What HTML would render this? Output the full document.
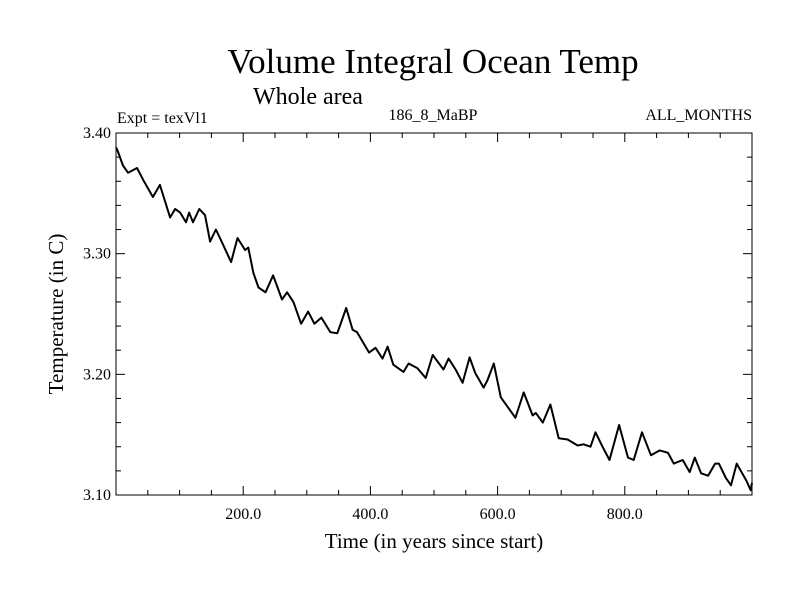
<!DOCTYPE html>
<html><head><meta charset="utf-8"><style>
body{margin:0;background:#fff;}
svg text{font-family:"Liberation Serif",serif;fill:#000;}
</style></head><body>
<svg id="chart" width="800" height="600" xmlns="http://www.w3.org/2000/svg">
<text x="433" y="73" font-size="35" text-anchor="middle">Volume Integral Ocean Temp</text>
<text x="308" y="104" font-size="24" text-anchor="middle">Whole area</text>
<text x="117" y="123" font-size="16">Expt = texVl1</text>
<text x="433" y="120" font-size="16" text-anchor="middle">186_8_MaBP</text>
<text x="752" y="120" font-size="16" text-anchor="end">ALL_MONTHS</text>
<g id="axes"></g>
<text x="434" y="548" font-size="21" text-anchor="middle">Time (in years since start)</text>
<text transform="translate(63,314) rotate(-90)" font-size="21" text-anchor="middle">Temperature (in C)</text>
</svg>
<script>
const years=[0,2,11,19,33,43,58,69,85,93,101,110,115,121,131,140,148,157,167,181,191,203,208,216,224,235,247,261,269,279,291,302,312,323,337,348,362,372,379,389,398,408,419,427,436,452,460,474,487,498,515,523,534,545,556,565,578,584,594,605,628,641,655,660,671,683,696,710,726,735,746,754,765,776,791,805,814,827,841,855,868,877,891,902,910,920,931,942,948,959,967,976,991,998,1000];
const temps=[3.388,3.386,3.373,3.367,3.371,3.361,3.347,3.357,3.330,3.337,3.334,3.326,3.334,3.326,3.337,3.332,3.310,3.320,3.309,3.293,3.313,3.303,3.305,3.284,3.272,3.268,3.282,3.262,3.268,3.260,3.242,3.252,3.242,3.247,3.235,3.234,3.255,3.237,3.235,3.226,3.218,3.222,3.213,3.223,3.208,3.202,3.209,3.205,3.197,3.216,3.204,3.213,3.204,3.193,3.214,3.201,3.189,3.195,3.209,3.181,3.164,3.185,3.166,3.168,3.160,3.175,3.147,3.146,3.141,3.142,3.140,3.152,3.140,3.129,3.158,3.131,3.129,3.152,3.133,3.137,3.135,3.126,3.129,3.119,3.131,3.118,3.116,3.126,3.126,3.114,3.108,3.126,3.112,3.104,3.110];
const xTickLabels=["200.0","400.0","600.0","800.0"];
const yTickLabels=["3.10","3.20","3.30","3.40"];
const L=116,R=752,T=133,B=495,X0=0,X1=1000,Y0=3.10,Y1=3.40;
const sx=v=>L+(v-X0)/(X1-X0)*(R-L);
const sy=v=>B-(v-Y0)/(Y1-Y0)*(B-T);
const NS="http://www.w3.org/2000/svg";
const g=document.getElementById('axes');
function mk(t,a){const e=document.createElementNS(NS,t);for(const k in a)e.setAttribute(k,a[k]);g.appendChild(e);return e;}
const frame=mk('rect',{x:L,y:T,width:R-L,height:B-T,fill:'none',stroke:'#000','stroke-width':1});


for(let v=50;v<1000;v+=50){
  const major=v%200===0, len=major?9:5, x=sx(v);
  const t1=mk('line',{x1:x,y1:B,x2:x,y2:B-len,stroke:'#000'});
  
  
  const t2=mk('line',{x1:x,y1:T,x2:x,y2:T+len,stroke:'#000'});
  
  
}
xTickLabels.forEach(s=>{
  const t=mk('text',{x:sx(parseFloat(s)),y:B+24,'font-size':16,'text-anchor':'middle'});t.textContent=s;
  
  
});
for(let i=1;i<15;i++){
  const v=Y0+i*0.02, major=i%5===0, len=major?9:5, y=sy(v);
  const t1=mk('line',{x1:L,y1:y,x2:L+len,y2:y,stroke:'#000'});
  
  
  const t2=mk('line',{x1:R,y1:y,x2:R-len,y2:y,stroke:'#000'});
  
  
}
yTickLabels.forEach(s=>{
  const t=mk('text',{x:L-5,y:sy(parseFloat(s))+5,'font-size':16,'text-anchor':'end'});t.textContent=s;
  
  
});
const pts=years.map((y,i)=>sx(y).toFixed(1)+','+sy(temps[i]).toFixed(1)).join(' ');
const line=mk('polyline',{points:pts,fill:'none',stroke:'#000','stroke-width':2,'stroke-linejoin':'round'});


</script>
</body></html>
